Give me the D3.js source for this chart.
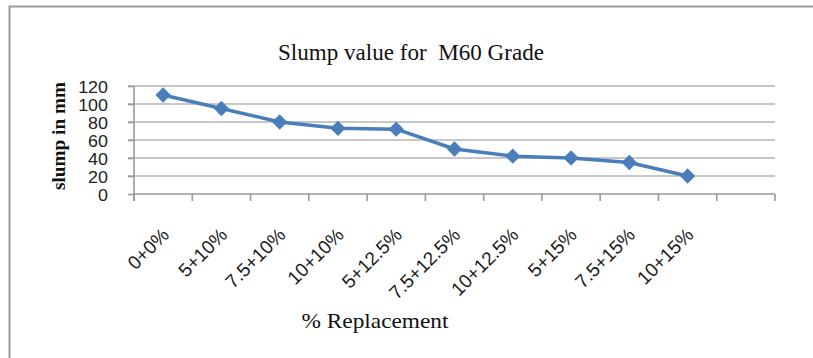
<!DOCTYPE html>
<html>
<head>
<meta charset="utf-8">
<script src="https://cdn.jsdelivr.net/npm/d3@7"></script>
<style>
  html, body { margin: 0; padding: 0; background: #fff; }
  svg { display: block; }
  text { white-space: pre; }
</style>
</head>
<body>
<svg id="chart" width="813" height="358"></svg>
<script>
// Slump test results for M60 grade concrete at each replacement mix
const categories = ["0+0%", "5+10%", "7.5+10%", "10+10%", "5+12.5%", "7.5+12.5%", "10+12.5%", "5+15%", "7.5+15%", "10+15%"];
const slumpValues = [110, 95, 80, 73, 72, 50, 42, 40, 35, 20];
const yTicks = [0, 20, 40, 60, 80, 100, 120];
const chartTitle = "Slump value for  M60 Grade";
const xTitle = "% Replacement";
const yTitle = "slump in mm";

const svg = d3.select("#chart");
const plot = { left: 134, right: 775, top: 86, bottom: 194 };

// Outer chart frame (left and top edges visible)
svg.append("path")
  .attr("d", "M9.5,358 V6.5 H813")
  .attr("fill", "none")
  .attr("stroke", "#9a9a9a")
  .attr("stroke-width", 2);

// 11 category slots; the last one is left empty
const slots = categories.concat([""]);
const x = d3.scaleBand().domain(d3.range(slots.length)).range([plot.left, plot.right]).padding(0);
const y = d3.scaleLinear().domain([0, 120]).range([plot.bottom, plot.top]);

// Horizontal gridlines
svg.append("g")
  .selectAll("line")
  .data(yTicks.filter(d => d > 0))
  .join("line")
  .attr("x1", plot.left - 6)
  .attr("x2", plot.right)
  .attr("y1", d => y(d))
  .attr("y2", d => y(d))
  .attr("stroke", "#b4b4b4")
  .attr("stroke-width", 1.6);

// Y axis
const yAxis = svg.append("g")
  .attr("transform", `translate(${plot.left},0)`)
  .call(d3.axisLeft(y).tickValues(yTicks).tickSize(6).tickPadding(22).tickSizeOuter(0));
yAxis.select(".domain").attr("stroke", "#9a9a9a").attr("stroke-width", 1.6)
  .attr("d", `M0,${plot.top} V${plot.bottom + 7}`);
yAxis.selectAll(".tick line").attr("stroke", "#9a9a9a").attr("stroke-width", 1.6);
yAxis.selectAll(".tick text")
  .attr("font-family", "'Liberation Sans', Arial, sans-serif")
  .attr("font-size", 16)
  .attr("fill", "#222")
  .attr("dy", "0.36em")
  .attr("transform", "scale(1.12,1.05)")
  .attr("x", -26 / 1.12);

// X axis with tick marks at slot boundaries
const xAxisG = svg.append("g").attr("transform", `translate(0,${plot.bottom})`);
xAxisG.append("line")
  .attr("x1", plot.left).attr("x2", plot.right)
  .attr("stroke", "#9a9a9a").attr("stroke-width", 1.6);
xAxisG.selectAll("line.tk")
  .data(d3.range(slots.length + 1))
  .join("line")
  .attr("class", "tk")
  .attr("x1", i => plot.left + i * x.bandwidth())
  .attr("x2", i => plot.left + i * x.bandwidth())
  .attr("y1", 0).attr("y2", 7)
  .attr("stroke", "#9a9a9a").attr("stroke-width", 1.6);

// Rotated category labels
xAxisG.selectAll("text")
  .data(categories)
  .join("text")
  .attr("transform", (d, i) => `translate(${x(i) + x.bandwidth() / 2 + 7},${42}) rotate(-45)`)
  .attr("text-anchor", "end")
  .attr("font-family", "'Liberation Sans', Arial, sans-serif")
  .attr("font-size", 19)
  .attr("fill", "#1a1a1a")
  .text(d => d);

// Series line
const cx = i => x(i) + x.bandwidth() / 2;
svg.append("path")
  .datum(slumpValues)
  .attr("fill", "none")
  .attr("stroke", "#4a7ebb")
  .attr("stroke-width", 3.5)
  .attr("stroke-linejoin", "round")
  .attr("d", d3.line().x((d, i) => cx(i)).y(d => y(d)));

// Diamond markers
svg.append("g")
  .selectAll("path")
  .data(slumpValues)
  .join("path")
  .attr("transform", (d, i) => `translate(${cx(i)},${y(d)})`)
  .attr("d", d3.symbol().type(d3.symbolDiamond2).size(150))
  .attr("fill", "#4a7ebb");

// Titles
svg.append("text")
  .attr("x", 411).attr("y", 60)
  .attr("text-anchor", "middle")
  .attr("font-family", "'Liberation Serif', 'Times New Roman', serif")
  .attr("font-size", 23)
  .attr("fill", "#111")
  .attr("textLength", 266)
  .attr("lengthAdjust", "spacingAndGlyphs")
  .text(chartTitle);

svg.append("text")
  .attr("x", 375).attr("y", 328)
  .attr("text-anchor", "middle")
  .attr("font-family", "'Liberation Serif', 'Times New Roman', serif")
  .attr("font-size", 21)
  .attr("fill", "#111")
  .attr("textLength", 147)
  .attr("lengthAdjust", "spacingAndGlyphs")
  .text(xTitle);

svg.append("text")
  .attr("transform", "translate(65,136) rotate(-90)")
  .attr("text-anchor", "middle")
  .attr("font-family", "'Liberation Serif', 'Times New Roman', serif")
  .attr("font-weight", "bold")
  .attr("font-size", 19)
  .attr("fill", "#111")
  .attr("textLength", 108)
  .attr("lengthAdjust", "spacingAndGlyphs")
  .text(yTitle);
</script>
</body>
</html>
